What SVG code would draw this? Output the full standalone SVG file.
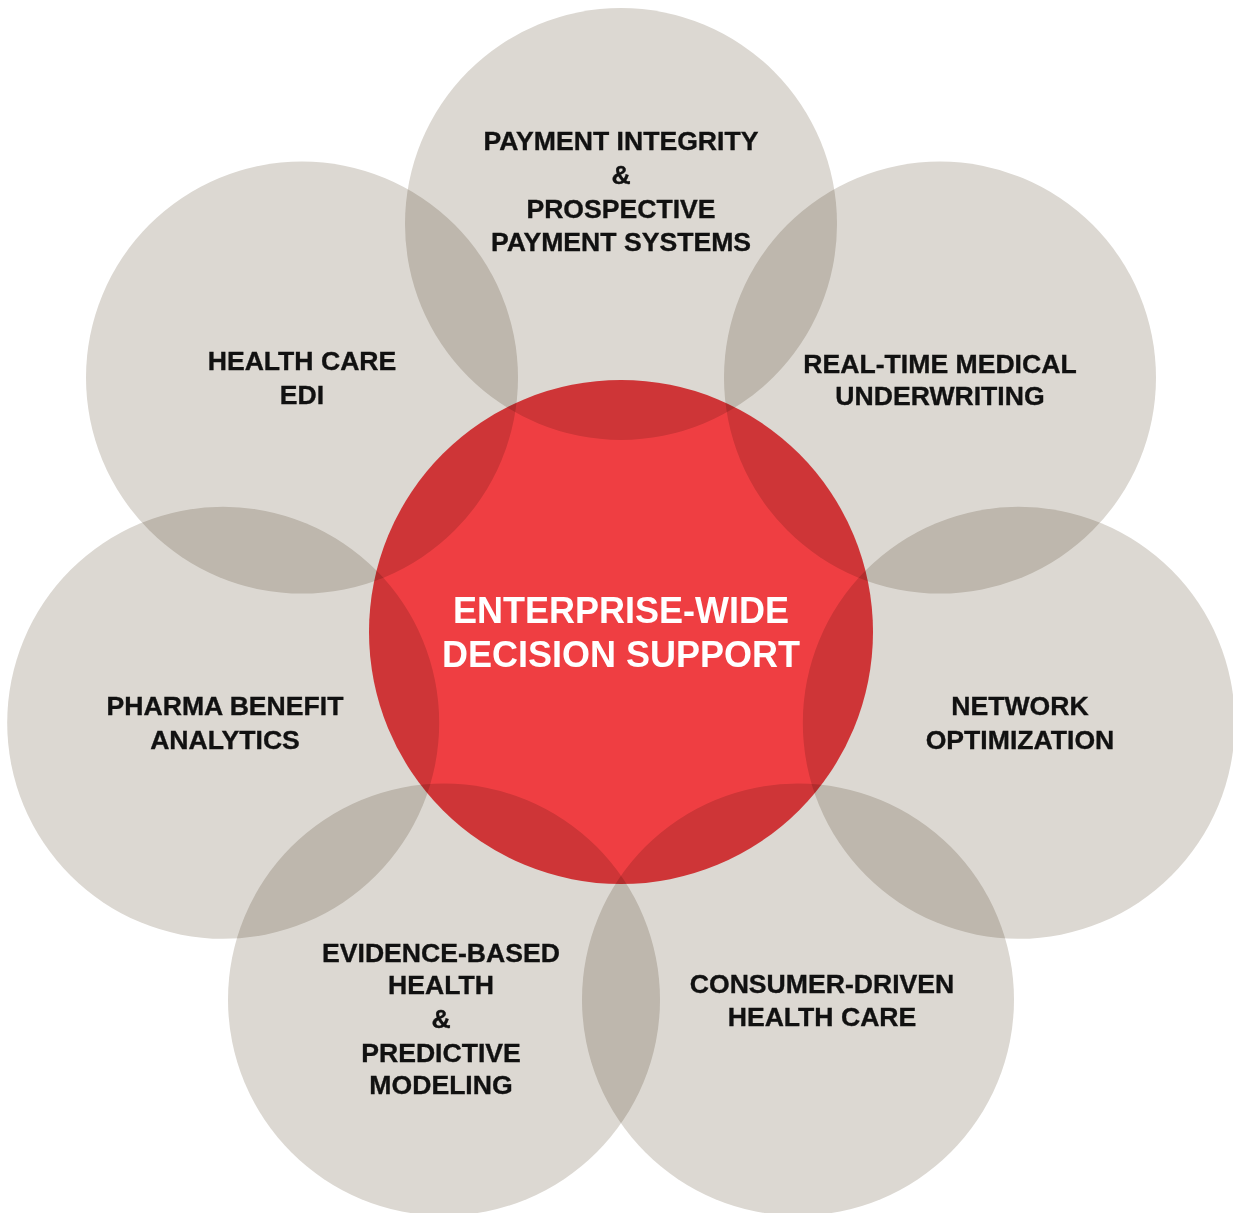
<svg xmlns="http://www.w3.org/2000/svg" width="1233" height="1213" viewBox="0 0 1233 1213">
  <style>
    .petal { fill: #dcd8d2; mix-blend-mode: multiply; }
    .core { fill: #ef3e42; mix-blend-mode: multiply; }
    .lbl { font-family: "Liberation Sans", Arial, sans-serif; font-weight: bold; font-size: 26.6px; fill: #111111; stroke: #111111; stroke-width: 0.35px; text-anchor: middle; }
    .core-lbl { font-family: "Liberation Sans", Arial, sans-serif; font-weight: bold; font-size: 36px; fill: #ffffff; text-anchor: middle; }
  </style>
  <rect width="1233" height="1213" fill="#ffffff"/>
  <g id="connectors"/>
  <g id="payment-integrity">
    <circle class="petal" cx="621" cy="224" r="216"/>
    <text class="lbl" x="621" y="150">PAYMENT INTEGRITY</text>
    <text class="lbl" x="621" y="184">&amp;</text>
    <text class="lbl" x="621" y="218">PROSPECTIVE</text>
    <text class="lbl" x="621" y="251">PAYMENT SYSTEMS</text>
  </g>
  <g id="health-care-edi">
    <circle class="petal" cx="302" cy="377.6" r="216"/>
    <text class="lbl" x="302" y="370">HEALTH CARE</text>
    <text class="lbl" x="302" y="404">EDI</text>
  </g>
  <g id="medical-underwriting">
    <circle class="petal" cx="940" cy="377.6" r="216"/>
    <text class="lbl" x="940" y="373">REAL-TIME MEDICAL</text>
    <text class="lbl" x="940" y="405">UNDERWRITING</text>
  </g>
  <g id="pharma-benefit">
    <circle class="petal" cx="223.2" cy="722.8" r="216"/>
    <text class="lbl" x="225" y="715">PHARMA BENEFIT</text>
    <text class="lbl" x="225" y="749">ANALYTICS</text>
  </g>
  <g id="network-optimization">
    <circle class="petal" cx="1018.8" cy="722.8" r="216"/>
    <text class="lbl" x="1020" y="715">NETWORK</text>
    <text class="lbl" x="1020" y="749">OPTIMIZATION</text>
  </g>
  <g id="evidence-based-health">
    <circle class="petal" cx="444" cy="999.6" r="216"/>
    <text class="lbl" x="441" y="962">EVIDENCE-BASED</text>
    <text class="lbl" x="441" y="994">HEALTH</text>
    <text class="lbl" x="441" y="1028">&amp;</text>
    <text class="lbl" x="441" y="1062">PREDICTIVE</text>
    <text class="lbl" x="441" y="1094">MODELING</text>
  </g>
  <g id="consumer-driven">
    <circle class="petal" cx="798" cy="999.6" r="216"/>
    <text class="lbl" x="822" y="993">CONSUMER-DRIVEN</text>
    <text class="lbl" x="822" y="1026">HEALTH CARE</text>
  </g>
  <g id="decision-support">
    <circle class="core" cx="621" cy="632" r="252"/>
    <text class="core-lbl" x="621" y="623">ENTERPRISE-WIDE</text>
    <text class="core-lbl" x="621" y="667">DECISION SUPPORT</text>
  </g>
</svg>
